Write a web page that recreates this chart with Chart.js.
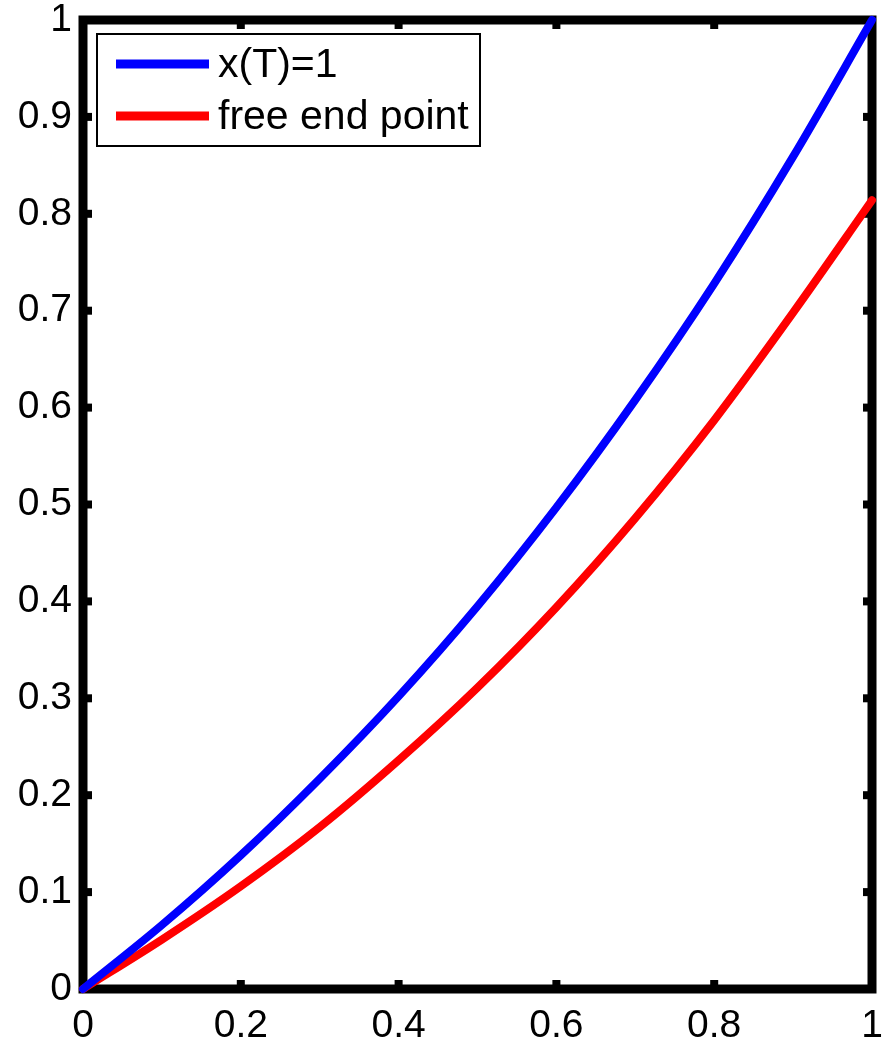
<!DOCTYPE html>
<html>
<head>
<meta charset="utf-8">
<script src="https://cdn.jsdelivr.net/npm/chart.js@4/dist/chart.umd.min.js"></script>
<style>
  html, body { margin: 0; padding: 0; background: #fff; }
  #wrap { width: 886px; height: 1041px; }
</style>
</head>
<body>
<div id="wrap"><canvas id="chart"></canvas></div>
<script>
// time grid and the two trajectories
var tValues = [0, 0.1, 0.2, 0.3, 0.4, 0.5, 0.6, 0.7, 0.8, 0.9, 1];
var fixedEnd = [0, 0.066, 0.138, 0.217, 0.302, 0.395, 0.497, 0.608, 0.728, 0.859, 1];
var freeEnd = [0, 0.051, 0.106, 0.167, 0.236, 0.311, 0.394, 0.486, 0.587, 0.698, 0.814];
var seriesNames = ["x(T)=1", "free end point"];
var xTicks = [0, 0.2, 0.4, 0.6, 0.8, 1];
var yTicks = [0, 0.1, 0.2, 0.3, 0.4, 0.5, 0.6, 0.7, 0.8, 0.9, 1];

var FONT = "'Liberation Sans', Arial, sans-serif";

function pts(ys) {
  return tValues.map(function (t, i) { return { x: t, y: ys[i] }; });
}

// matlab style box with inward ticks, drawn under the curves
var boxPlugin = {
  id: 'box',
  beforeDatasetsDraw: function (chart) {
    var a = chart.chartArea, ctx = chart.ctx;
    var xs = chart.scales.x, ys = chart.scales.y;
    ctx.save();
    ctx.fillStyle = '#000';
    var tl = 9, tw = 8;
    xTicks.forEach(function (v) {
      var px = xs.getPixelForValue(v);
      ctx.fillRect(px - tw / 2, a.bottom - tl, tw, tl);
      ctx.fillRect(px - tw / 2, a.top, tw, tl);
    });
    yTicks.forEach(function (v) {
      var py = ys.getPixelForValue(v);
      ctx.fillRect(a.left, py - tw / 2, tl, tw);
      ctx.fillRect(a.right - tl, py - tw / 2, tl, tw);
    });
    ctx.strokeStyle = '#000';
    ctx.lineWidth = 9;
    ctx.lineJoin = 'miter';
    ctx.strokeRect(a.left, a.top, a.right - a.left, a.bottom - a.top);
    ctx.restore();
  }
};

// legend box in the upper left corner of the axes
var legendPlugin = {
  id: 'boxLegend',
  afterDatasetsDraw: function (chart) {
    var ctx = chart.ctx, a = chart.chartArea;
    var x0 = a.left + 14, y0 = a.top + 14, w = 383, h = 112;
    ctx.save();
    ctx.fillStyle = '#fff';
    ctx.fillRect(x0, y0, w, h);
    ctx.strokeStyle = '#000';
    ctx.lineWidth = 2;
    ctx.strokeRect(x0, y0, w, h);
    ctx.font = '41px ' + FONT;
    ctx.textBaseline = 'middle';
    ctx.textAlign = 'left';
    chart.data.datasets.forEach(function (ds, i) {
      var y = y0 + 30 + i * 52;
      ctx.strokeStyle = ds.borderColor;
      ctx.lineWidth = 9;
      ctx.lineCap = 'butt';
      ctx.beginPath();
      ctx.moveTo(x0 + 19, y);
      ctx.lineTo(x0 + 112, y);
      ctx.stroke();
      ctx.fillStyle = '#000';
      ctx.fillText(ds.label, x0 + 121, y + 2);
    });
    ctx.restore();
  }
};

new Chart(document.getElementById('chart'), {
  type: 'line',
  data: {
    datasets: [{
      label: seriesNames[0],
      data: pts(fixedEnd),
      borderColor: '#0000ff',
      borderWidth: 8,
      pointRadius: 0,
      cubicInterpolationMode: 'monotone',
      borderCapStyle: 'round',
      clip: false
    }, {
      label: seriesNames[1],
      data: pts(freeEnd),
      borderColor: '#ff0000',
      borderWidth: 8,
      pointRadius: 0,
      cubicInterpolationMode: 'monotone',
      borderCapStyle: 'round',
      clip: false
    }]
  },
  options: {
    responsive: true,
    maintainAspectRatio: false,
    animation: false,
    layout: { padding: { top: 20, right: 14, left: 0, bottom: 0 } },
    plugins: {
      legend: { display: false },
      tooltip: { enabled: false }
    },
    scales: {
      x: {
        type: 'linear',
        min: 0,
        max: 1,
        afterFit: function (s) { s.height = 52; s.paddingLeft = 0; s.paddingRight = 0; },
        afterBuildTicks: function (s) { s.ticks = xTicks.map(function (v) { return { value: v }; }); },
        grid: { display: false, drawTicks: false },
        border: { display: false },
        ticks: {
          autoSkip: false,
          maxRotation: 0,
          padding: 18,
          color: '#000',
          font: { family: FONT, size: 39, lineHeight: 1 },
          callback: function (v) { return String(v); }
        }
      },
      y: {
        type: 'linear',
        min: 0,
        max: 1,
        afterFit: function (s) { s.width = 83; s.paddingTop = 0; s.paddingBottom = 0; },
        afterBuildTicks: function (s) { s.ticks = yTicks.map(function (v) { return { value: v }; }); },
        grid: { display: false, drawTicks: false },
        border: { display: false },
        ticks: {
          autoSkip: false,
          padding: 11,
          color: '#000',
          font: { family: FONT, size: 39, lineHeight: 1 },
          callback: function (v) { return String(v); }
        }
      }
    }
  },
  plugins: [boxPlugin, legendPlugin]
});
</script>
</body>
</html>
